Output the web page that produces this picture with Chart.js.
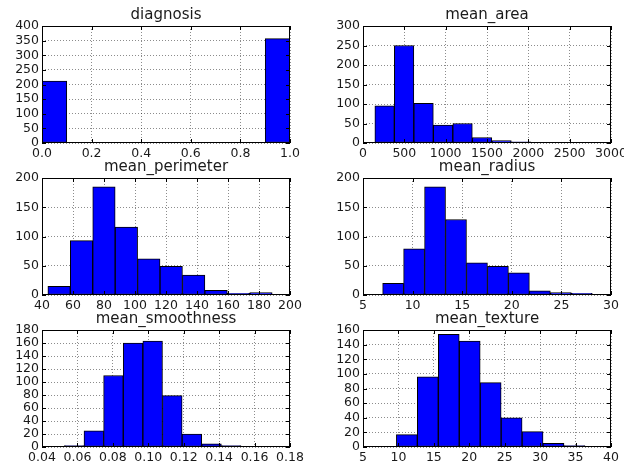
<!DOCTYPE html>
<html>
<head>
<meta charset="utf-8">
<script src="https://cdn.jsdelivr.net/npm/chart.js@4"></script>
<style>
  body { margin: 0; background: #fff; }
  #wrap { position: relative; width: 624px; height: 470px; overflow: hidden; background: #fff; }
  .panel { position: absolute; }
</style>
</head>
<body>
<div id="wrap"></div>
<script>
// histogram counts, 10 bins each
const diagnosisCounts = [212, 0, 0, 0, 0, 0, 0, 0, 0, 357]
const diagnosisRange = [0, 1]

const areaCounts = [95, 250, 102, 46, 50, 14, 6, 3, 1, 1]
const areaRange = [143.5, 2501]

const perimeterCounts = [15, 93, 185, 116, 62, 49, 34, 8, 3, 4]
const perimeterRange = [43.79, 188.5]

const radiusCounts = [20, 79, 185, 129, 55, 49, 38, 7, 4, 3]
const radiusRange = [6.981, 28.11]

const smoothnessCounts = [2, 25, 110, 160, 163, 79, 20, 5, 2, 1]
const smoothnessRange = [0.05263, 0.1634]

const textureCounts = [17, 96, 154, 145, 88, 40, 21, 5, 2, 1]
const textureRange = [9.71, 39.28]

const titles = ['diagnosis', 'mean_area', 'mean_perimeter', 'mean_radius', 'mean_smoothness', 'mean_texture']

// axis ticks: [min, max, step, decimals]
const xTicks = [
  [0, 1, 0.2, 1],
  [0, 3000, 500, 0],
  [40, 200, 20, 0],
  [5, 30, 5, 0],
  [0.04, 0.18, 0.02, 2],
  [5, 40, 5, 0],
]
const yTicks = [
  [400, 50],
  [300, 50],
  [200, 50],
  [200, 50],
  [180, 20],
  [160, 20],
]

const allCounts = [diagnosisCounts, areaCounts, perimeterCounts, radiusCounts, smoothnessCounts, textureCounts]
const allRanges = [diagnosisRange, areaRange, perimeterRange, radiusRange, smoothnessRange, textureRange]

// plot area positions (left, top) in the page
const plotW = 248, plotH = 117
const spots = [[42, 26], [363, 26], [42, 178], [363, 178], [42, 330], [363, 330]]
const padL = 44, padT = 28, padR = 20, padB = 22

const FONT = 'DejaVu Sans'
const TXT = '#1a1a1a'

function binCenters(counts, range) {
  const w = (range[1] - range[0]) / counts.length
  return counts.map((c, i) => ({ x: range[0] + w * (i + 0.5), y: c }))
}

const framePlugin = {
  id: 'frame',
  afterDatasetsDraw(chart) {
    const { ctx, chartArea: a, scales } = chart
    ctx.save()
    ctx.strokeStyle = '#000'
    ctx.lineWidth = 1
    ctx.beginPath()
    scales.x.ticks.forEach(t => {
      const px = Math.round(scales.x.getPixelForValue(t.value)) + 0.5
      ctx.moveTo(px, a.bottom); ctx.lineTo(px, a.bottom - 4)
      ctx.moveTo(px, a.top); ctx.lineTo(px, a.top + 4)
    })
    scales.y.ticks.forEach(t => {
      const py = Math.round(scales.y.getPixelForValue(t.value)) + 0.5
      ctx.moveTo(a.left, py); ctx.lineTo(a.left + 4, py)
      ctx.moveTo(a.right, py); ctx.lineTo(a.right - 4, py)
    })
    ctx.stroke()
    ctx.strokeRect(Math.round(a.left) + 0.5, Math.round(a.top) + 0.5, Math.round(a.width) - 1, Math.round(a.height) - 1)
    ctx.restore()
  },
  afterDraw(chart) {
    const { ctx, chartArea: a } = chart
    ctx.save()
    ctx.fillStyle = TXT
    ctx.font = '15px "' + FONT + '"'
    ctx.textAlign = 'center'
    ctx.textBaseline = 'alphabetic'
    ctx.fillText(chart.options.plugins.frame.title, (a.left + a.right) / 2, a.top - 7)
    ctx.restore()
  }
}

const wrap = document.getElementById('wrap')

titles.forEach((title, i) => {
  const [L, T] = spots[i]
  const div = document.createElement('div')
  div.className = 'panel'
  div.style.left = (L - padL) + 'px'
  div.style.top = (T - padT) + 'px'
  const canvas = document.createElement('canvas')
  canvas.width = plotW + padL + padR
  canvas.height = plotH + padT + padB
  div.appendChild(canvas)
  wrap.appendChild(div)

  const [xmin, xmax, xstep, dec] = xTicks[i]
  const [ymax, ystep] = yTicks[i]

  new Chart(canvas, {
    type: 'bar',
    data: {
      datasets: [{
        data: binCenters(allCounts[i], allRanges[i]),
        backgroundColor: '#0000ff',
        borderColor: '#000',
        borderWidth: 1,
        borderSkipped: false,
        barPercentage: 1,
        categoryPercentage: 1,
      }],
    },
    options: {
      responsive: false,
      devicePixelRatio: 1,
      animation: false,
      layout: { padding: { top: padT, right: padR, left: 0, bottom: 0 } },
      plugins: {
        legend: { display: false },
        tooltip: { enabled: false },
        frame: { title: title },
      },
      scales: {
        x: {
          type: 'linear',
          min: xmin,
          max: xmax,
          offset: false,
          afterFit: s => { s.height = padB },
          grid: { offset: false, drawTicks: false, color: 'rgba(0,0,0,0.45)', lineWidth: 1 },
          border: { display: false, dash: [1, 2] },
          ticks: {
            stepSize: xstep,
            autoSkip: false,
            maxRotation: 0,
            padding: 3,
            color: TXT,
            font: { family: FONT, size: 12.5 },
            callback: v => Number(v).toFixed(dec),
          },
        },
        y: {
          min: 0,
          max: ymax,
          afterFit: s => { s.width = padL },
          grid: { drawTicks: false, color: 'rgba(0,0,0,0.45)', lineWidth: 1 },
          border: { display: false, dash: [1, 2] },
          ticks: {
            stepSize: ystep,
            autoSkip: false,
            padding: 3,
            color: TXT,
            font: { family: FONT, size: 12.5 },
          },
        },
      },
    },
    plugins: [framePlugin],
  })
})
</script>
</body>
</html>
